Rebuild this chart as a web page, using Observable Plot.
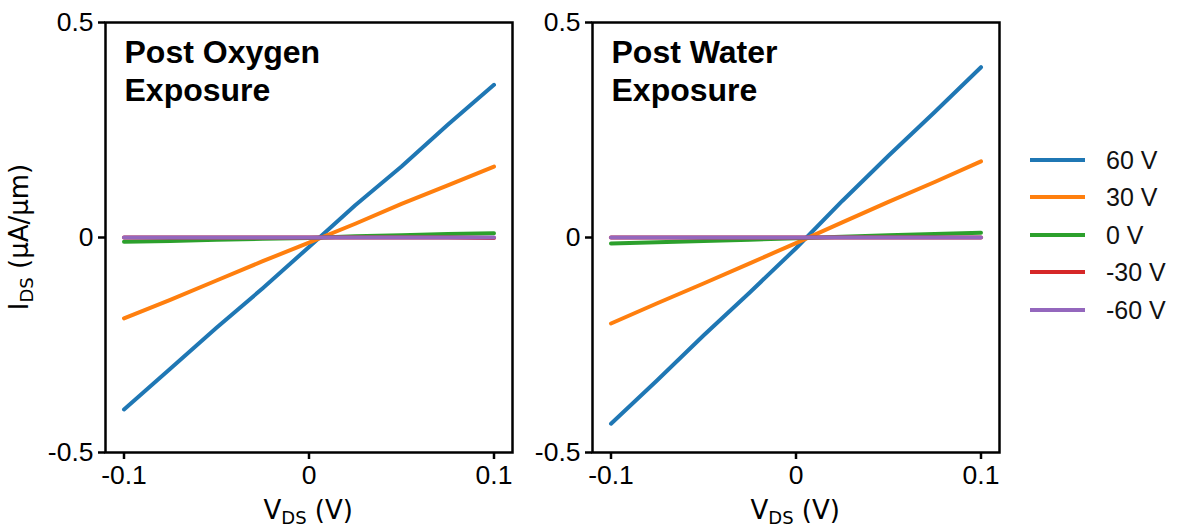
<!DOCTYPE html>
<html>
<head>
<meta charset="utf-8">
<script src="https://cdn.jsdelivr.net/npm/d3@7"></script>
<script src="https://cdn.jsdelivr.net/npm/@observablehq/plot@0.6"></script>
<style>
  html, body { margin: 0; padding: 0; background: #fff; }
  #root { position: relative; width: 1177px; height: 531px; overflow: hidden; font-family: "Liberation Sans", Arial, sans-serif; }
  .panel { position: absolute; top: 0; }
  .axlabel { position: absolute; font-family: "DejaVu Sans", sans-serif; font-size: 26px; color: #000; white-space: nowrap; line-height: 1; }
  .axlabel sub { font-size: 18px; vertical-align: -5px; }
  .legend { position: absolute; left: 1030px; top: 0; }
  .legrow { position: absolute; left: 0; width: 140px; height: 30px; }
  .legline { position: absolute; left: 0; width: 55px; height: 4px; top: 13px; }
  .legtext { position: absolute; left: 76px; top: 0; font-size: 25px; line-height: 30px; color: #111; white-space: nowrap; }
</style>
</head>
<body>
<div id="root"></div>
<script>
// ---- data ----
const series = ["60 V", "30 V", "0 V", "-30 V", "-60 V"];
const colors = ["#1f77b4", "#ff7f0e", "#2ca02c", "#d62728", "#9467bd"];
const vds = [-0.1, -0.075, -0.05, -0.025, 0, 0.025, 0.05, 0.075, 0.1];

// Post Oxygen Exposure (µA/µm)
const oxy60  = [-0.400, -0.305, -0.210, -0.118, -0.022, 0.075, 0.165, 0.262, 0.355];
const oxy30  = [-0.188, -0.145, -0.100, -0.055, -0.012, 0.032, 0.078, 0.121, 0.165];
const oxy0   = [-0.010, -0.008, -0.005, -0.003, -0.001, 0.003, 0.005, 0.008, 0.010];
const oxyM30 = [0, 0, 0, 0, 0, 0, 0, 0, -0.001];
const oxyM60 = [0, 0, 0, 0, 0, 0, 0, 0, 0];

// Post Water Exposure (µA/µm)
const wat60  = [-0.433, -0.332, -0.228, -0.128, -0.025, 0.085, 0.190, 0.292, 0.396];
const wat30  = [-0.200, -0.153, -0.107, -0.060, -0.013, 0.035, 0.083, 0.129, 0.177];
const wat0   = [-0.014, -0.011, -0.008, -0.005, -0.002, 0.002, 0.005, 0.008, 0.011];
const watM30 = [0, 0, 0, 0, 0, 0, 0, 0, 0];
const watM60 = [0, 0, 0, 0, 0, 0, 0, 0, 0];

const xTicks = [-0.1, 0, 0.1];
const xTickLabels = ["-0.1", "0", "0.1"];
const yTicks = [-0.5, 0, 0.5];
const yTickLabels = ["-0.5", "0", "0.5"];

const panels = [
  {title: "Post Oxygen\nExposure", left: 0, curves: [oxy60, oxy30, oxy0, oxyM30, oxyM60]},
  {title: "Post Water\nExposure", left: 487, curves: [wat60, wat30, wat0, watM30, watM60]}
];

function toRows(curves) {
  const rows = [];
  curves.forEach((vals, i) => vals.forEach((v, j) => rows.push({series: series[i], v: vds[j], i: v})));
  return rows;
}

const root = document.getElementById("root");

panels.forEach((p) => {
  const rows = toRows(p.curves);
  const chart = Plot.plot({
    width: 540,
    height: 531,
    marginLeft: 105,
    marginRight: 28,
    marginTop: 22,
    marginBottom: 79,
    style: {fontFamily: "'Liberation Sans', Arial, sans-serif", color: "#000", background: "transparent", overflow: "visible"},
    x: {domain: [-0.11, 0.11]},
    y: {domain: [-0.5, 0.5]},
    color: {domain: series, range: colors},
    marks: [
      Plot.line(rows, {x: "v", y: "i", z: "series", stroke: "series", strokeWidth: 4, strokeLinecap: "round", strokeLinejoin: "round"}),
      Plot.frame({stroke: "#000", strokeWidth: 2.5}),
      Plot.axisX({ticks: xTicks, tickFormat: (d) => xTickLabels[xTicks.indexOf(d)], tickSize: 7, tickPadding: 6, fontSize: 26.5, strokeWidth: 2.5, label: null}),
      Plot.axisY({ticks: yTicks, tickFormat: (d) => yTickLabels[yTicks.indexOf(d)], tickSize: 7, tickPadding: 5, fontSize: 26.5, strokeWidth: 2.5, label: null}),
      Plot.text([p.title], {frameAnchor: "top-left", text: (d) => d, textAnchor: "start", lineAnchor: "top", dx: 19, dy: 14, fontSize: 32, fontWeight: "bold", lineHeight: 1.18, fill: "#000"})
    ]
  });
  const wrap = document.createElement("div");
  wrap.className = "panel";
  wrap.style.left = p.left + "px";
  wrap.appendChild(chart);
  root.appendChild(wrap);

  const xl = document.createElement("div");
  xl.className = "axlabel";
  xl.innerHTML = "V<sub>DS</sub> (V)";
  root.appendChild(xl);
  xl.style.left = (p.left + 308 - xl.offsetWidth / 2) + "px";
  xl.style.top = (497) + "px";
});

// y-axis label
const yl = document.createElement("div");
yl.className = "axlabel";
yl.innerHTML = "I<sub>DS</sub> (\u03bcA/\u03bcm)";
root.appendChild(yl);
const w = yl.offsetWidth, h = yl.offsetHeight;
yl.style.left = (21 - w / 2) + "px";
yl.style.top = (237 - h / 2) + "px";
yl.style.transform = "rotate(-90deg)";

// legend
const legend = document.createElement("div");
legend.className = "legend";
const rowY = [160, 197, 235, 272, 310];
series.forEach((s, i) => {
  const r = document.createElement("div");
  r.className = "legrow";
  r.style.top = (rowY[i] - 15) + "px";
  r.innerHTML = `<div class="legline" style="background:${colors[i]}"></div><div class="legtext">${s}</div>`;
  legend.appendChild(r);
});
root.appendChild(legend);
</script>
</body>
</html>
